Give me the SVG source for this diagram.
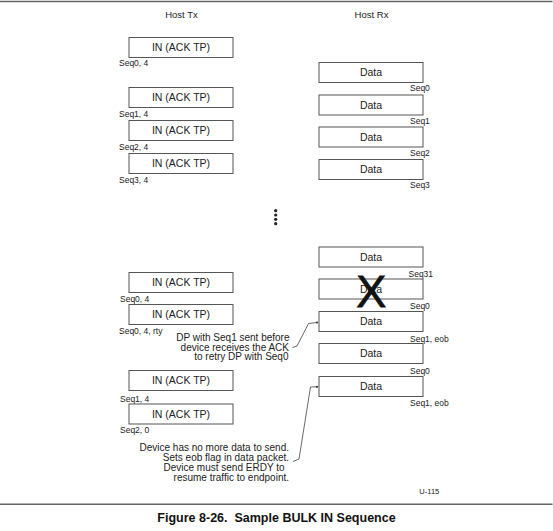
<svg xmlns="http://www.w3.org/2000/svg" width="553" height="531" viewBox="0 0 553 531">
<style>
  text { font-family: "Liberation Sans", Arial, sans-serif; fill: #222; }
  .box { fill: #fff; stroke: #555; stroke-width: 1; }
  .lbl { font-size: 10.5px; text-anchor: middle; }
  .seq { font-size: 8.5px; }
  .head { font-size: 9.5px; text-anchor: middle; }
  .note { font-size: 10px; text-anchor: end; }
  .frame { stroke: #666; stroke-width: 1.4; }
  .conn { fill: none; stroke: #444; stroke-width: 0.8; }
</style>
<rect width="553" height="531" fill="#fff"/>
<line class="frame" x1="0" y1="1.5" x2="552.5" y2="1.5"/>
<line class="frame" x1="0" y1="504.3" x2="552.5" y2="504.3"/>

<text class="head" x="181.5" y="18.3">Host Tx</text>
<text class="head" x="371.5" y="18.3">Host Rx</text>

<g id="tx1"><rect class="box" x="129" y="37.5" width="104" height="20"/><text class="lbl" x="181" y="51.3">IN (ACK TP)</text><text class="seq" x="119" y="65.7">Seq0, 4</text></g>
<g id="tx2"><rect class="box" x="129" y="87.5" width="104" height="20"/><text class="lbl" x="181" y="101.3">IN (ACK TP)</text><text class="seq" x="119" y="116.5">Seq1, 4</text></g>
<g id="tx3"><rect class="box" x="129" y="120.5" width="104" height="20"/><text class="lbl" x="181" y="134.3">IN (ACK TP)</text><text class="seq" x="119" y="149.5">Seq2, 4</text></g>
<g id="tx4"><rect class="box" x="129" y="153.5" width="104" height="20"/><text class="lbl" x="181" y="167.3">IN (ACK TP)</text><text class="seq" x="119" y="182.5">Seq3, 4</text></g>

<g id="rx1"><rect class="box" x="319" y="62.5" width="104" height="20"/><text class="lbl" x="371" y="76.3">Data</text><text class="seq" x="410" y="91">Seq0</text></g>
<g id="rx2"><rect class="box" x="319" y="95" width="104" height="20"/><text class="lbl" x="371" y="108.8">Data</text><text class="seq" x="410" y="123.5">Seq1</text></g>
<g id="rx3"><rect class="box" x="319" y="127" width="104" height="20"/><text class="lbl" x="371" y="140.8">Data</text><text class="seq" x="410" y="155.5">Seq2</text></g>
<g id="rx4"><rect class="box" x="319" y="159.5" width="104" height="20"/><text class="lbl" x="371" y="173.3">Data</text><text class="seq" x="410" y="188">Seq3</text></g>

<g id="dots" fill="#222">
  <circle cx="275.7" cy="210.7" r="1.6"/>
  <circle cx="275.7" cy="215" r="1.6"/>
  <circle cx="275.7" cy="219.3" r="1.6"/>
  <circle cx="275.7" cy="223.7" r="1.6"/>
</g>

<g id="rx5"><rect class="box" x="319" y="247" width="104" height="20"/><text class="lbl" x="371" y="260.8">Data</text><text class="seq" x="408.5" y="277">Seq31</text></g>
<g id="rx6"><rect class="box" x="319" y="279" width="104" height="20"/><text class="lbl" x="371" y="292.8">Data</text><text class="seq" x="410" y="309">Seq0</text>
  <text x="371.3" y="306.5" style="font-size:45px;text-anchor:middle;fill:#111;stroke:#111;stroke-width:0.8">X</text></g>
<g id="rx7"><rect class="box" x="319" y="311.5" width="104" height="20"/><text class="lbl" x="371" y="325.3">Data</text><text class="seq" x="410" y="342">Seq1, eob</text></g>
<g id="rx8"><rect class="box" x="319" y="343.5" width="104" height="20"/><text class="lbl" x="371" y="357.3">Data</text><text class="seq" x="410" y="373.7">Seq0</text></g>
<g id="rx9"><rect class="box" x="319" y="376.5" width="104" height="20"/><text class="lbl" x="371" y="390.3">Data</text><text class="seq" x="410" y="406">Seq1, eob</text></g>

<g id="tx5"><rect class="box" x="129" y="272.5" width="104" height="20"/><text class="lbl" x="181" y="286.3">IN (ACK TP)</text><text class="seq" x="120" y="301.5">Seq0, 4</text></g>
<g id="tx6"><rect class="box" x="129" y="304.5" width="104" height="20"/><text class="lbl" x="181" y="318.3">IN (ACK TP)</text><text class="seq" x="119" y="334">Seq0, 4, rty</text></g>
<g id="tx7"><rect class="box" x="129" y="370.5" width="104" height="20"/><text class="lbl" x="181" y="384.3">IN (ACK TP)</text><text class="seq" x="120" y="401.5">Seq1, 4</text></g>
<g id="tx8"><rect class="box" x="129" y="404" width="104" height="20"/><text class="lbl" x="181" y="417.8">IN (ACK TP)</text><text class="seq" x="120" y="433">Seq2, 0</text></g>

<g id="note1">
  <text class="note" x="289.5" y="341">DP with Seq1 sent before</text>
  <text class="note" x="289" y="350.5">device receives the ACK</text>
  <text class="note" x="288.5" y="360">to retry DP with Seq0</text>
</g>
<g id="note2">
  <text class="note" x="289" y="450.8">Device has no more data to send.</text>
  <text class="note" x="289" y="460.8">Sets eob flag in data packet.</text>
  <text class="note" x="284.5" y="470.8">Device must send ERDY to</text>
  <text class="note" x="289" y="480.8">resume traffic to endpoint.</text>
</g>

<g id="connectors">
  <polyline class="conn" points="292.5,347.5 297,346 308.5,323.5 317,322.5"/>
  <circle cx="317" cy="322.5" r="1.1" fill="#333"/>
  <polyline class="conn" points="293,461.5 299,459 310.5,387 317,386.8"/>
  <circle cx="317" cy="386.8" r="1.1" fill="#333"/>
</g>

<text x="429.3" y="493.5" style="font-size:7.5px;text-anchor:middle">U-115</text>
<text x="276.5" y="522" style="font-size:12.5px;font-weight:bold;text-anchor:middle;white-space:pre;fill:#111">Figure 8-26.  Sample BULK IN Sequence</text>
</svg>
